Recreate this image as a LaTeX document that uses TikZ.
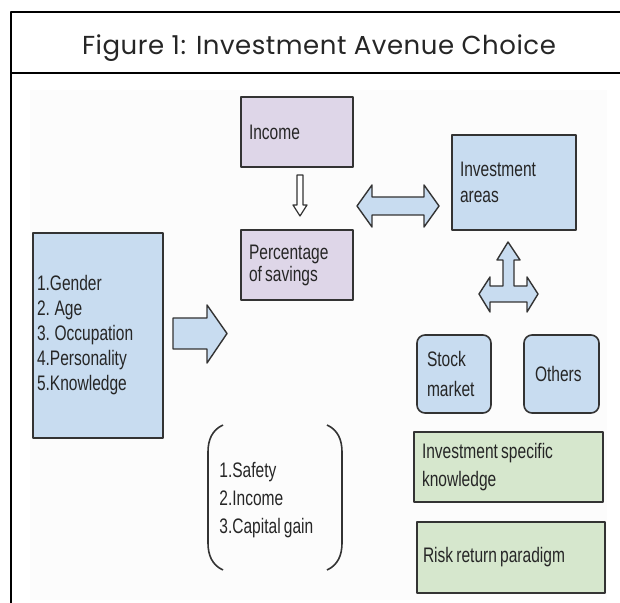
\documentclass[tikz,border=0pt]{standalone}
\usepackage{fontspec}
\setmainfont{Liberation Sans}
\newfontfamily\narrowsans{Liberation Sans}[FakeStretch=0.74, WordSpace=0.74]
\newfontfamily\titlefont{Poppins}[LetterSpace=2]
\definecolor{boxblue}{HTML}{C8DCF0}
\definecolor{boxlilac}{HTML}{DED6E8}
\definecolor{boxgreen}{HTML}{D6E7CD}
\definecolor{edge}{HTML}{333333}
\definecolor{ink}{HTML}{262626}
\begin{document}
\begin{tikzpicture}[x=0.5pt, y=-0.5pt, line join=round]
	\tikzset{box/.style={draw=edge, line width=0.8pt, text=ink, align=flush left, inner ysep=0pt, minimum height=#1},
		txt/.style={font=\narrowsans\fontsize{10.5pt}{#1}\selectfont},
		blockarrow/.style={draw=edge, line width=0.7pt, fill=boxblue}}
	\useasboundingbox (0,0) rectangle (620,603);
	\clip (0,0) rectangle (620,603);
	% table frame and heading row
	\fill[black!1] (30,90) rectangle (607,600);
	\draw[line width=0.65pt] (11,12) rectangle (660,660);
	\draw[line width=1.2pt] (11,73) -- (660,73);
	\node[font=\titlefont\fontsize{13pt}{15pt}\selectfont, text=ink, anchor=base] (title) at (319,55) {Figure 1: Investment Avenue Choice};
	% boxes
	\node[box=35pt, fill=boxlilac, txt=11pt, text width=48pt, inner xsep=4pt] (income) at (297,132) {Income};
	\node[box=35pt, fill=boxlilac, txt=11pt, text width=48pt, inner xsep=4pt] (savings) at (297,265) {Percentage\\of savings};
	\node[box=47.5pt, fill=boxblue, txt=13pt, text width=54pt, inner xsep=4pt] (areas) at (514,182.5) {Investment\\areas};
	\node[box=102.5pt, fill=boxblue, txt=12.5pt, text width=61pt, inner xsep=2pt] (factors) at (98,335.5) {1.Gender\\2. Age\\3. Occupation\\4.Personality\\5.Knowledge};
	\node[box=39pt, fill=boxblue, txt=15pt, text width=27pt, inner xsep=5pt, rounded corners=4pt] (stock) at (454,374) {Stock\\market};
	\node[box=39pt, fill=boxblue, txt=15pt, text width=26.5pt, inner xsep=5.5pt, rounded corners=4pt] (others) at (561.5,374) {Others};
	\node[box=35pt, fill=boxgreen, txt=14pt, text width=86.5pt, inner xsep=4pt] (specific) at (508.5,467) {Investment specific\\knowledge};
	\node[box=35.5pt, fill=boxgreen, txt=14pt, text width=88pt, inner xsep=3pt] (risk) at (511,557.5) {Risk return paradigm};
	\node[txt=14pt, text=ink, align=left, anchor=west, inner sep=0pt] (goals) at (219,500) {1.Safety\\2.Income\\3.Capital gain};
	% bracket round the goals
	\draw[edge, line width=0.8pt] (223,425) .. controls (212,430) and (208,440) .. (208,452) -- (208,543) .. controls (208,555) and (212,565) .. (223,570);
	\draw[edge, line width=0.8pt] (327,425) .. controls (338,430) and (342,440) .. (342,452) -- (342,543) .. controls (342,555) and (338,565) .. (327,570);
	% block arrows
	\draw[draw=edge, line width=0.6pt, fill=white] (297,175) -- (303,175) -- (303,205) -- (307,205) -- (300,216) -- (293,205) -- (297,205) -- cycle;
	\draw[blockarrow] (357,206) -- (372,185) -- (372,197) -- (424,197) -- (424,185) -- (439,206) -- (424,227) -- (424,215) -- (372,215) -- (372,227) -- cycle;
	\draw[blockarrow] (173,318) -- (207,318) -- (207,305) -- (227,333.5) -- (207,363) -- (207,349) -- (173,349) -- cycle;
	\draw[blockarrow] (508,242) -- (520,260) -- (514,260) -- (514,286) -- (527,286) -- (527,277) -- (538,294) -- (527,312) -- (527,302)
		-- (490,302) -- (490,312) -- (479,294) -- (490,277) -- (490,286) -- (503,286) -- (503,260) -- (497,260) -- cycle;
\end{tikzpicture}
\end{document}
